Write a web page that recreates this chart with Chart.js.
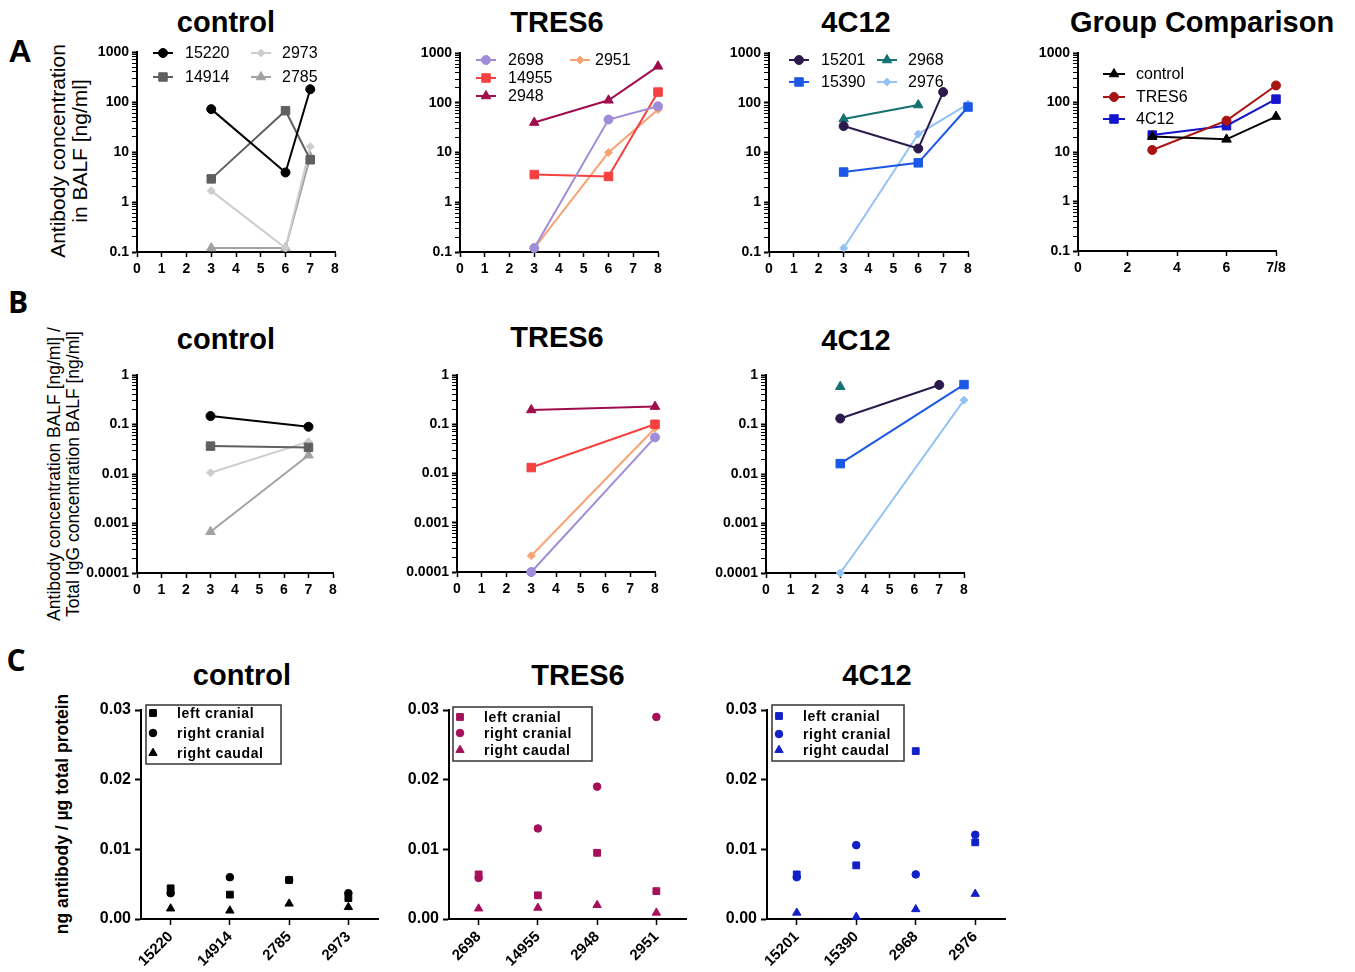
<!DOCTYPE html>
<html><head><meta charset="utf-8">
<script src="https://cdn.jsdelivr.net/npm/chart.js@4"></script>
<style>
html,body{margin:0;padding:0;background:#fff;}
#page{position:relative;width:1355px;height:972px;overflow:hidden;font-family:'Liberation Sans',Arial,Helvetica,sans-serif;color:#000;background:#fff;}
canvas{position:absolute;}
.t{position:absolute;transform:translate(-50%,-50%);white-space:nowrap;font-weight:bold;line-height:1;}
.yt{position:absolute;transform:translate(-50%,-50%) rotate(-90deg);white-space:nowrap;text-align:center;}
</style></head>
<body><div id="page">
<div class="t" style="left:20px;top:51px;font-size:32px">A</div>
<div class="t" style="left:18px;top:302px;font-size:30px;font-family:'Open Sans',sans-serif;font-weight:700">B</div>
<div class="t" style="left:16px;top:660px;font-size:30px;font-family:'Open Sans',sans-serif;font-weight:700">C</div>

<div class="t" style="left:226px;top:22px;font-size:29px">control</div>
<div class="t" style="left:557px;top:22px;font-size:29px">TRES6</div>
<div class="t" style="left:856px;top:22px;font-size:29px">4C12</div>
<div class="t" style="left:1202px;top:22px;font-size:29px">Group Comparison</div>

<div class="t" style="left:226px;top:339px;font-size:29px">control</div>
<div class="t" style="left:557px;top:337px;font-size:29px">TRES6</div>
<div class="t" style="left:856px;top:340px;font-size:29px">4C12</div>

<div class="t" style="left:242px;top:675px;font-size:29px">control</div>
<div class="t" style="left:578px;top:675px;font-size:29px">TRES6</div>
<div class="t" style="left:877px;top:675px;font-size:29px">4C12</div>

<div class="yt" style="left:69px;top:151px;font-size:21px;line-height:22px">Antibody concentration<br>in BALF [ng/ml]</div>
<div class="yt" style="left:64px;top:474px;font-size:17.5px;line-height:19px">Antibody concentration BALF [ng/ml] /<br>Total IgG concentration BALF [ng/ml]</div>
<div class="yt" style="left:62px;top:814px;font-size:17.5px;font-weight:bold">ng antibody / µg total protein</div>
</div>
<script>
// ---------- Panel A: antibody concentration in BALF [ng/ml] ----------
const A_CTL_DAYS = [3, 6, 7];
const A_CTL_15220 = [72, 3.9, 180];
const A_CTL_14914 = [2.9, 67, 7.0];
const A_CTL_2973 = [1.67, 0.12, 12.8];
const A_CTL_2785 = [0.12, 0.12, 8.0];

const A_TRES_DAYS = [3, 6, 8];
const A_TRES_2698 = [0.12, 46, 85];
const A_TRES_14955 = [3.6, 3.3, 164];
const A_TRES_2948 = [40, 112, 540];
const A_TRES_2951 = [0.12, 10, 73];

const A_4C12_15201_DAYS = [3, 6, 7];
const A_4C12_15201 = [34, 12, 164];
const A_4C12_DAYS = [3, 6, 8];
const A_4C12_15390 = [4.05, 6.2, 82];
const A_4C12_2968_DAYS = [3, 6];
const A_4C12_2968 = [47, 90];
const A_4C12_2976 = [0.12, 23.5, 94];

const GROUP_DAYS = [3, 6, 8];
const GROUP_CONTROL = [20.5, 18, 52];
const GROUP_TRES6 = [11, 43, 221];
const GROUP_4C12 = [22, 34, 117];

// ---------- Panel B: antibody / total IgG in BALF ----------
const B_CTL_DAYS = [3, 7];
const B_CTL_15220 = [0.148, 0.09];
const B_CTL_14914 = [0.0366, 0.0345];
const B_CTL_2973 = [0.0106, 0.045];
const B_CTL_2785 = [0.00068, 0.024];

const B_TRES_DAYS = [3, 8];
const B_TRES_2698 = [0.0001, 0.054];
const B_TRES_14955 = [0.0132, 0.1];
const B_TRES_2948 = [0.195, 0.228];
const B_TRES_2951 = [0.000214, 0.083];

const B_4C12_15201_DAYS = [3, 7];
const B_4C12_15201 = [0.132, 0.63];
const B_4C12_DAYS = [3, 8];
const B_4C12_15390 = [0.0162, 0.64];
const B_4C12_2968_DAYS = [3];
const B_4C12_2968 = [0.58];
const B_4C12_2976 = [0.0001, 0.31];

// ---------- Panel C: ng antibody / µg total protein ----------
const C_CTL_ANIMALS = ['15220', '14914', '2785', '2973'];
const C_CTL_LEFT_CRANIAL = [0.0044, 0.0035, 0.0056, 0.0030];
const C_CTL_RIGHT_CRANIAL = [0.0037, 0.0060, 0.0056, 0.0037];
const C_CTL_RIGHT_CAUDAL = [0.0015, 0.0012, 0.0022, 0.0017];

const C_TRES_ANIMALS = ['2698', '14955', '2948', '2951'];
const C_TRES_LEFT_CRANIAL = [0.0064, 0.0034, 0.0095, 0.0040];
const C_TRES_RIGHT_CRANIAL = [0.0059, 0.0130, 0.0190, 0.0290];
const C_TRES_RIGHT_CAUDAL = [0.0015, 0.0016, 0.0020, 0.0009];

const C_4C12_ANIMALS = ['15201', '15390', '2968', '2976'];
const C_4C12_LEFT_CRANIAL = [0.0064, 0.0077, 0.0241, 0.0110];
const C_4C12_RIGHT_CRANIAL = [0.0060, 0.0106, 0.0064, 0.0121];
const C_4C12_RIGHT_CAUDAL = [0.0009, 0.0003, 0.0014, 0.0036];

// ---------- tick values / labels ----------
const DAY_TICKS = [0, 1, 2, 3, 4, 5, 6, 7, 8];
const GROUP_DAY_TICKS = [0, 2, 4, 6, 8];
const GROUP_DAY_LABELS = ['0', '2', '4', '6', '7/8'];
const A_LOG_MAJORS = [0.1, 1, 10, 100, 1000];
const B_LOG_MAJORS = [0.0001, 0.001, 0.01, 0.1, 1];
const C_Y_TICKS = [0, 0.01, 0.02, 0.03];

// ---------- helpers ----------
const FONT = "'Liberation Sans', Arial, Helvetica, sans-serif";
const page = document.getElementById('page');

function fallbackDrawPoint(ctx, o, x, y) {
  const r = o.radius; ctx.beginPath();
  if (o.pointStyle === 'rect') { const s = r * Math.SQRT1_2; ctx.rect(x - s, y - s, 2 * s, 2 * s); }
  else if (o.pointStyle === 'triangle') { ctx.moveTo(x, y - r); ctx.lineTo(x + r * 0.866, y + r / 2); ctx.lineTo(x - r * 0.866, y + r / 2); ctx.closePath(); }
  else if (o.pointStyle === 'rectRot') { ctx.moveTo(x, y - r); ctx.lineTo(x + r, y); ctx.lineTo(x, y + r); ctx.lineTo(x - r, y); ctx.closePath(); }
  else ctx.arc(x, y, r, 0, Math.PI * 2);
  ctx.fill(); if (o.borderWidth > 0) ctx.stroke();
}
const drawPt = (Chart.helpers && Chart.helpers.drawPoint) ? Chart.helpers.drawPoint : fallbackDrawPoint;

const insideLegend = {
  id: 'insideLegend',
  afterDraw(chart) {
    const o = chart.canvas._legend;
    if (!o) return;
    const ctx = chart.ctx, a = chart.chartArea;
    ctx.save();
    if (o.box) {
      ctx.fillStyle = '#fff';
      ctx.fillRect(a.left + o.box.x, a.top + o.box.y, o.box.w, o.box.h);
      ctx.strokeStyle = '#333'; ctx.lineWidth = 1.5;
      ctx.strokeRect(a.left + o.box.x, a.top + o.box.y, o.box.w, o.box.h);
    }
    o.items.forEach(it => {
      const ds = chart.data.datasets[it.ds];
      const x = a.left + it.x, y = a.top + it.y;
      if (o.half) {
        ctx.strokeStyle = ds.borderColor; ctx.lineWidth = 2;
        ctx.beginPath(); ctx.moveTo(x - o.half, y); ctx.lineTo(x + o.half, y); ctx.stroke();
      }
      ctx.fillStyle = ds.pointBackgroundColor; ctx.strokeStyle = ds.pointBorderColor; ctx.lineWidth = 1;
      drawPt(ctx, { pointStyle: ds.pointStyle, radius: ds.pointRadius, borderWidth: 1, rotation: 0 }, x, y);
      ctx.font = o.font; ctx.fillStyle = '#000';
      if (o.letterSpacing) ctx.letterSpacing = o.letterSpacing;
      ctx.textBaseline = 'middle'; ctx.textAlign = 'left';
      ctx.fillText(ds.label, x + (it.tx !== undefined ? it.tx : o.tx), y + 1);
    });
    ctx.restore();
  }
};
Chart.register(insideLegend);

function pts(xs, ys) { return xs.map((x, i) => ({ x: x, y: ys[i] })); }
function series(label, xs, ys, color, style, r) {
  return { label, data: pts(xs, ys), borderColor: color, backgroundColor: color,
    pointBackgroundColor: color, pointBorderColor: color, pointStyle: style,
    pointRadius: r, pointBorderWidth: 1, borderWidth: 2, clip: false, tension: 0 };
}
function dots(label, ys, color, style, r) {
  return { label, data: ys, showLine: false, borderColor: color, backgroundColor: color,
    pointBackgroundColor: color, pointBorderColor: color, pointStyle: style,
    pointRadius: r, pointBorderWidth: 1, clip: false };
}
function makeCanvas(box, m, legend) {
  const c = document.createElement('canvas');
  const w = box.R - box.L + m.yw + m.r, h = box.B - box.T + m.t + m.xh;
  c.width = w; c.height = h;
  c.style.left = (box.L - m.yw) + 'px'; c.style.top = (box.T - m.t) + 'px';
  c.style.width = w + 'px'; c.style.height = h + 'px';
  c._legend = legend || null;
  page.appendChild(c);
  return c;
}
function baseOptions(m) {
  return { responsive: false, animation: false, events: [],
    layout: { padding: { left: 0, top: m.t, right: m.r, bottom: 0 } },
    plugins: { legend: { display: false }, tooltip: { enabled: false }, title: { display: false } } };
}
const axisBorder = { display: true, color: '#000', width: 2 };
function daysAxis(m, ticks, labels) {
  return { type: 'linear', min: ticks[0], max: ticks[ticks.length - 1],
    afterBuildTicks: s => { s.ticks = ticks.map(v => ({ value: v })); },
    afterFit: s => { s.height = m.xh; },
    ticks: { autoSkip: false, maxRotation: 0, minRotation: 0, color: '#000', padding: 4,
      font: { family: FONT, size: 14, weight: 'bold' },
      callback: (v, i) => labels ? labels[i] : String(v) },
    grid: { drawOnChartArea: false, tickLength: 5, tickColor: '#000', tickWidth: 1.5 },
    border: axisBorder };
}
function majorIndex(majors, v) { return majors.findIndex(d => Math.abs(d - v) / d < 1e-6); }
function logAxis(m, majors) {
  const all = [];
  majors.slice(0, -1).forEach(d => { for (let k = 1; k < 10; k++) all.push(+(k * d).toPrecision(6)); });
  all.push(majors[majors.length - 1]);
  return { type: 'logarithmic', min: majors[0], max: majors[majors.length - 1],
    afterBuildTicks: s => { s.ticks = all.map(v => ({ value: v })); },
    afterFit: s => { s.width = m.yw; },
    ticks: { autoSkip: false, color: '#000', padding: 3,
      font: { family: FONT, size: 14, weight: 'bold' },
      callback: v => { const i = majorIndex(majors, v); return i < 0 ? '' : String(majors[i]); } },
    grid: { drawOnChartArea: false, tickLength: 5, tickColor: '#000',
      tickWidth: c => (c.tick && majorIndex(majors, c.tick.value) >= 0) ? 2 : 1 },
    border: axisBorder };
}
function lineChart(box, m, datasets, xTicks, xLabels, majors, legend) {
  const c = makeCanvas(box, m, legend);
  const opt = baseOptions(m);
  opt.scales = { x: daysAxis(m, xTicks, xLabels), y: logAxis(m, majors) };
  return new Chart(c, { type: 'line', data: { datasets }, options: opt });
}
function dotChart(box, m, labels, datasets, legend) {
  const c = makeCanvas(box, m, legend);
  const opt = baseOptions(m);
  opt.scales = {
    x: { type: 'category', offset: true, afterFit: s => { s.height = m.xh; },
      ticks: { autoSkip: false, minRotation: 45, maxRotation: 45, color: '#000', padding: 3,
        font: { family: FONT, size: 15, weight: 'bold' } },
      grid: { drawOnChartArea: false, offset: false, tickLength: 6, tickColor: '#000', tickWidth: 1.5 },
      border: axisBorder },
    y: { type: 'linear', min: C_Y_TICKS[0], max: C_Y_TICKS[C_Y_TICKS.length - 1],
      afterBuildTicks: s => { s.ticks = C_Y_TICKS.map(v => ({ value: v })); },
      afterFit: s => { s.width = m.yw; },
      ticks: { color: '#000', padding: 4, font: { family: FONT, size: 16, weight: 'bold' },
        callback: v => Number(v).toFixed(2) },
      grid: { drawOnChartArea: false, tickLength: 6, tickColor: '#000', tickWidth: 2 },
      border: axisBorder }
  };
  return new Chart(c, { type: 'line', data: { labels, datasets }, options: opt });
}

// ---------- colours ----------
const COL = {
  c15220: '#000000', c14914: '#606060', c2973: '#cdcdcd', c2785: '#a2a2a2',
  t2698: '#a08cd8', t14955: '#f5413f', t2948: '#a00d4f', t2951: '#f9a273',
  f15201: '#2b1b4d', f15390: '#1c58e6', f2968: '#157272', f2976: '#94c2f5',
  gCtl: '#000000', gTres: '#a81414', g4c12: '#1414cc',
  cCtl: '#000000', cTres: '#a6105a', c4c12: '#1220c8'
};
const mAB = { yw: 60, t: 14, r: 26, xh: 30 };
const legA = { font: "16px " + FONT, half: 10, tx: 22 };

// ---------- Row A ----------
lineChart({ L: 137, R: 335, T: 52, B: 252 }, mAB, [
  series('15220', A_CTL_DAYS, A_CTL_15220, COL.c15220, 'circle', 4.5),
  series('14914', A_CTL_DAYS, A_CTL_14914, COL.c14914, 'rect', 6),
  series('2973', A_CTL_DAYS, A_CTL_2973, COL.c2973, 'rectRot', 4),
  series('2785', A_CTL_DAYS, A_CTL_2785, COL.c2785, 'triangle', 5.5)
], DAY_TICKS, null, A_LOG_MAJORS, Object.assign({ items: [
  { ds: 0, x: 26, y: 1 }, { ds: 1, x: 26, y: 25 }, { ds: 2, x: 124, y: 1, tx: 21 }, { ds: 3, x: 124, y: 25, tx: 21 }
] }, legA));

lineChart({ L: 460, R: 658, T: 53, B: 252 }, mAB, [
  series('2698', A_TRES_DAYS, A_TRES_2698, COL.t2698, 'circle', 4.5),
  series('14955', A_TRES_DAYS, A_TRES_14955, COL.t14955, 'rect', 6),
  series('2948', A_TRES_DAYS, A_TRES_2948, COL.t2948, 'triangle', 5.5),
  series('2951', A_TRES_DAYS, A_TRES_2951, COL.t2951, 'rectRot', 4)
], DAY_TICKS, null, A_LOG_MAJORS, Object.assign({ items: [
  { ds: 0, x: 26, y: 7 }, { ds: 1, x: 26, y: 25 }, { ds: 2, x: 26, y: 43 }, { ds: 3, x: 120, y: 7, tx: 15 }
] }, legA));

lineChart({ L: 769, R: 968, T: 53, B: 252 }, mAB, [
  series('15201', A_4C12_15201_DAYS, A_4C12_15201, COL.f15201, 'circle', 4.5),
  series('15390', A_4C12_DAYS, A_4C12_15390, COL.f15390, 'rect', 6),
  series('2968', A_4C12_2968_DAYS, A_4C12_2968, COL.f2968, 'triangle', 5.5),
  series('2976', A_4C12_DAYS, A_4C12_2976, COL.f2976, 'rectRot', 4)
], DAY_TICKS, null, A_LOG_MAJORS, Object.assign({ items: [
  { ds: 0, x: 30, y: 7 }, { ds: 1, x: 30, y: 29 }, { ds: 2, x: 118, y: 7, tx: 21 }, { ds: 3, x: 118, y: 29, tx: 21 }
] }, legA));

lineChart({ L: 1078, R: 1276, T: 53, B: 251 }, mAB, [
  series('control', GROUP_DAYS, GROUP_CONTROL, COL.gCtl, 'triangle', 5.5),
  series('TRES6', GROUP_DAYS, GROUP_TRES6, COL.gTres, 'circle', 4.5),
  series('4C12', GROUP_DAYS, GROUP_4C12, COL.g4c12, 'rect', 6)
], GROUP_DAY_TICKS, GROUP_DAY_LABELS, A_LOG_MAJORS, { font: "16px " + FONT, half: 11, tx: 22, items: [
  { ds: 0, x: 36, y: 21 }, { ds: 1, x: 36, y: 44 }, { ds: 2, x: 36, y: 66 }
] });

// ---------- Row B ----------
lineChart({ L: 137, R: 333, T: 375, B: 573 }, mAB, [
  series('15220', B_CTL_DAYS, B_CTL_15220, COL.c15220, 'circle', 4.5),
  series('14914', B_CTL_DAYS, B_CTL_14914, COL.c14914, 'rect', 6),
  series('2973', B_CTL_DAYS, B_CTL_2973, COL.c2973, 'rectRot', 4),
  series('2785', B_CTL_DAYS, B_CTL_2785, COL.c2785, 'triangle', 5.5)
], DAY_TICKS, null, B_LOG_MAJORS, null);

lineChart({ L: 457, R: 655, T: 375, B: 572 }, mAB, [
  series('2698', B_TRES_DAYS, B_TRES_2698, COL.t2698, 'circle', 4.5),
  series('14955', B_TRES_DAYS, B_TRES_14955, COL.t14955, 'rect', 6),
  series('2948', B_TRES_DAYS, B_TRES_2948, COL.t2948, 'triangle', 5.5),
  series('2951', B_TRES_DAYS, B_TRES_2951, COL.t2951, 'rectRot', 4)
], DAY_TICKS, null, B_LOG_MAJORS, null);

lineChart({ L: 766, R: 964, T: 375, B: 573 }, mAB, [
  series('15201', B_4C12_15201_DAYS, B_4C12_15201, COL.f15201, 'circle', 4.5),
  series('15390', B_4C12_DAYS, B_4C12_15390, COL.f15390, 'rect', 6),
  series('2968', B_4C12_2968_DAYS, B_4C12_2968, COL.f2968, 'triangle', 5.5),
  series('2976', B_4C12_DAYS, B_4C12_2976, COL.f2976, 'rectRot', 4)
], DAY_TICKS, null, B_LOG_MAJORS, null);

// ---------- Row C ----------
const mC = { yw: 60, t: 14, r: 20, xh: 60 };
const legC = { font: "bold 14px " + FONT, letterSpacing: '0.6px', tx: 24 };
dotChart({ L: 141, R: 378, T: 710, B: 919 }, mC, C_CTL_ANIMALS, [
  dots('left cranial', C_CTL_LEFT_CRANIAL, COL.cCtl, 'rect', 4.8),
  dots('right cranial', C_CTL_RIGHT_CRANIAL, COL.cCtl, 'circle', 3.8),
  dots('right caudal', C_CTL_RIGHT_CAUDAL, COL.cCtl, 'triangle', 4.8)
], Object.assign({ box: { x: 5, y: -5, w: 135, h: 59 }, items: [
  { ds: 0, x: 12, y: 3 }, { ds: 1, x: 12, y: 23 }, { ds: 2, x: 12, y: 43 }
] }, legC));

dotChart({ L: 449, R: 686, T: 710, B: 919 }, mC, C_TRES_ANIMALS, [
  dots('left cranial', C_TRES_LEFT_CRANIAL, COL.cTres, 'rect', 4.8),
  dots('right cranial', C_TRES_RIGHT_CRANIAL, COL.cTres, 'circle', 3.8),
  dots('right caudal', C_TRES_RIGHT_CAUDAL, COL.cTres, 'triangle', 4.8)
], Object.assign({ box: { x: 4, y: -3, w: 139, h: 54 }, items: [
  { ds: 0, x: 11, y: 7 }, { ds: 1, x: 11, y: 23 }, { ds: 2, x: 11, y: 40 }
] }, legC));

dotChart({ L: 767, R: 1005, T: 710, B: 919 }, mC, C_4C12_ANIMALS, [
  dots('left cranial', C_4C12_LEFT_CRANIAL, COL.c4c12, 'rect', 4.8),
  dots('right cranial', C_4C12_RIGHT_CRANIAL, COL.c4c12, 'circle', 3.8),
  dots('right caudal', C_4C12_RIGHT_CAUDAL, COL.c4c12, 'triangle', 4.8)
], Object.assign({ box: { x: 5, y: -5, w: 132, h: 56 }, items: [
  { ds: 0, x: 12, y: 6 }, { ds: 1, x: 12, y: 24 }, { ds: 2, x: 12, y: 40 }
] }, legC));
</script>
</body></html>
